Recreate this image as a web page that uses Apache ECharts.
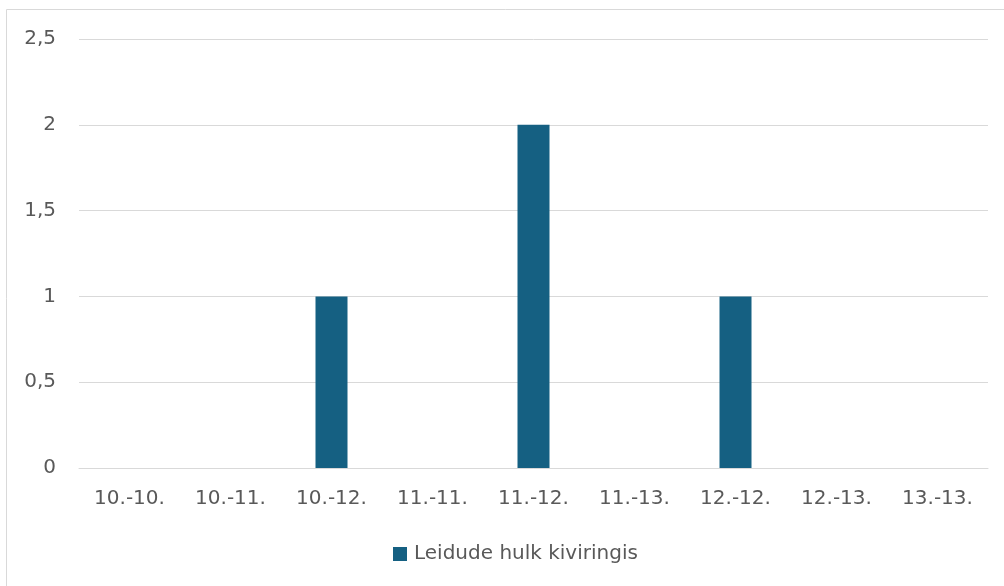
<!DOCTYPE html>
<html><head><meta charset="utf-8">
<script src="https://cdn.jsdelivr.net/npm/echarts@6/dist/echarts.min.js"></script>
<style>html,body{margin:0;padding:0;background:#fff}#c{width:1004px;height:586px}</style>
</head><body><div id="c"></div>
<script>
const categories = ['10.-10.','10.-11.','10.-12.','11.-11.','11.-12.','11.-13.','12.-12.','12.-13.','13.-13.'];
const values = [0,0,1,0,2,0,1,0,0];
const seriesName = 'Leidude hulk kiviringis';
const chart = echarts.init(document.getElementById('c'));
const font = '"DejaVu Sans", sans-serif';
chart.setOption({
  animation:false,
  textStyle:{fontFamily:font},
  graphic:[{type:'rect',shape:{x:6.5,y:9.5,width:1200,height:800},style:{fill:'none',stroke:'#d9d9d9',lineWidth:1},silent:true}],
  grid:{left:79,right:16,top:39,bottom:118},
  legend:{bottom:22,left:393,padding:0,itemWidth:14,itemHeight:14,icon:'rect',itemGap:6,
    textStyle:{color:'#595959',fontSize:20,fontFamily:font,padding:[0,0,0,2]}},
  xAxis:{type:'category',data:categories,
    axisLine:{lineStyle:{color:'#d9d9d9',width:1}},axisTick:{show:false},
    axisLabel:{color:'#595959',fontSize:20,margin:21,fontFamily:font}},
  yAxis:{type:'value',min:0,max:2.5,interval:0.5,
    axisLine:{show:false},axisTick:{show:false},
    splitLine:{lineStyle:{color:'#d9d9d9',width:1}},
    axisLabel:{color:'#595959',fontSize:20,margin:23,fontFamily:font,
      formatter:v=>String(v).replace('.',',')}},
  series:[{name:seriesName,type:'bar',data:values,barWidth:32,itemStyle:{color:'#156082'}}]
});
</script></body></html>
